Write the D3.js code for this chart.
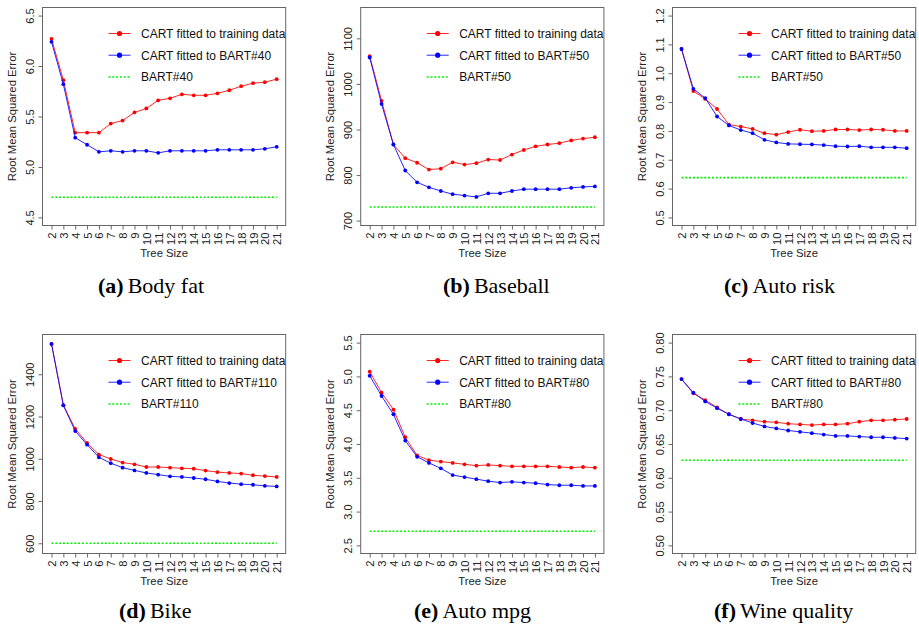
<!DOCTYPE html>
<html><head><meta charset="utf-8">
<script src="https://cdn.jsdelivr.net/npm/d3@7"></script>
<style>body{margin:0;background:#fff}svg{display:block}</style>
</head><body>
<svg id="chart" width="919" height="626"></svg>
<script>
// ---------- data ----------
const treeSizes = [2,3,4,5,6,7,8,9,10,11,12,13,14,15,16,17,18,19,20,21];

// (a) Body fat
const bodyFatCart = [6.27,5.86,5.34,5.34,5.34,5.43,5.46,5.54,5.58,5.66,5.68,5.72,5.71,5.71,5.73,5.76,5.80,5.83,5.84,5.87];
const bodyFatCartBart = [6.24,5.82,5.29,5.22,5.15,5.16,5.15,5.16,5.16,5.14,5.16,5.16,5.16,5.16,5.17,5.17,5.17,5.17,5.18,5.20];
const bodyFatBart = 4.70;
const bodyFatTicks = [4.5,5.0,5.5,6.0,6.5];

// (b) Baseball
const baseballCart = [1061,963,867,837,827,812,814,828,823,826,834,833,845,855,863,867,870,876,880,883];
const baseballCartBart = [1058,956,867,810,784,773,765,758,755,752,760,760,765,769,769,769,769,772,774,775];
const baseballBart = 730;
const baseballTicks = [700,800,900,1000,1100];

// (c) Auto risk
const autoRiskCart = [1.084,0.938,0.911,0.876,0.822,0.815,0.807,0.792,0.787,0.796,0.804,0.799,0.800,0.805,0.805,0.803,0.805,0.804,0.800,0.800];
const autoRiskCartBart = [1.084,0.946,0.914,0.850,0.819,0.803,0.792,0.769,0.760,0.755,0.754,0.753,0.751,0.747,0.746,0.747,0.743,0.743,0.743,0.740];
const autoRiskBart = 0.638;
const autoRiskTicks = [0.5,0.6,0.7,0.8,0.9,1.0,1.1,1.2];

// (d) Bike
const bikeCart = [1544,1254,1142,1075,1020,999,982,974,961,961,958,955,953,944,937,933,930,922,918,914];
const bikeCartBart = [1544,1253,1131,1067,1007,979,958,945,933,925,917,914,909,903,893,885,880,877,872,869];
const bikeBart = 600;
const bikeTicks = [600,800,1000,1200,1400];

// (e) Auto mpg
const autoMpgCart = [5.07,4.76,4.51,4.10,3.83,3.76,3.74,3.72,3.70,3.68,3.69,3.68,3.67,3.67,3.67,3.67,3.66,3.65,3.66,3.65];
const autoMpgCartBart = [5.01,4.71,4.44,4.05,3.81,3.72,3.64,3.54,3.51,3.48,3.45,3.43,3.44,3.43,3.42,3.40,3.39,3.39,3.38,3.38];
const autoMpgBart = 2.71;
const autoMpgTicks = [2.5,3.0,3.5,4.0,4.5,5.0,5.5];

// (f) Wine quality
const wineCart = [0.746,0.725,0.715,0.704,0.694,0.687,0.685,0.683,0.682,0.680,0.679,0.678,0.679,0.679,0.680,0.683,0.685,0.685,0.686,0.687];
const wineCartBart = [0.746,0.726,0.713,0.703,0.694,0.687,0.681,0.676,0.673,0.670,0.668,0.666,0.664,0.662,0.662,0.661,0.660,0.660,0.659,0.658];
const wineBart = 0.626;
const wineTicks = [0.50,0.55,0.60,0.65,0.70,0.75,0.80];

const legendCart = "CART fitted to training data";
const xTitle = "Tree Size";
const yTitle = "Root Mean Squared Error";

// ---------- layout ----------
const panels = [
  {letter:"(a)", name:"Body fat", cart:bodyFatCart, cb:bodyFatCartBart, bart:bodyFatBart, bartName:"BART#40", ticks:bodyFatTicks, fmt:".1f", ylim:[4.5,6.5], left:42.5, top:7.5, h:218, capX:98, capY:293},
  {letter:"(b)", name:"Baseball", cart:baseballCart, cb:baseballCartBart, bart:baseballBart, bartName:"BART#50", ticks:baseballTicks, fmt:"d", ylim:[707,1150], left:360.7, top:7.5, h:218, capX:443, capY:293},
  {letter:"(c)", name:"Auto risk", cart:autoRiskCart, cb:autoRiskCartBart, bart:autoRiskBart, bartName:"BART#50", ticks:autoRiskTicks, fmt:".1f", ylim:[0.5,1.2], left:672.5, top:7.5, h:218, capX:724, capY:293},
  {letter:"(d)", name:"Bike", cart:bikeCart, cb:bikeCartBart, bart:bikeBart, bartName:"BART#110", ticks:bikeTicks, fmt:"d", ylim:[590,1550], left:42.5, top:334.5, h:219, capX:119, capY:618},
  {letter:"(e)", name:"Auto mpg", cart:autoMpgCart, cb:autoMpgCartBart, bart:autoMpgBart, bartName:"BART#80", ticks:autoMpgTicks, fmt:".1f", ylim:[2.5,5.5], left:360.7, top:334.5, h:219, capX:414, capY:618},
  {letter:"(f)", name:"Wine quality", cart:wineCart, cb:wineCartBart, bart:wineBart, bartName:"BART#80", ticks:wineTicks, fmt:".2f", ylim:[0.5,0.8], left:672.5, top:334.5, h:219, capX:714, capY:618}
];

const W = 243.2;
const RED = "#ff0000", BLUE = "#0000ff", GREEN = "#00ee00";
const BOXC = "#666", TXT = "#222";
const SANS = "'Liberation Sans', Arial, sans-serif";
const SERIF = "'Liberation Serif', 'Times New Roman', serif";

const svg = d3.select("#chart");

panels.forEach(p => {
  const xe = 0.04 * (treeSizes[treeSizes.length-1] - treeSizes[0]);
  const x = d3.scaleLinear().domain([treeSizes[0]-xe, treeSizes[treeSizes.length-1]+xe]).range([p.left, p.left+W]);
  const ye = 0.04 * (p.ylim[1]-p.ylim[0]);
  const y = d3.scaleLinear().domain([p.ylim[0]-ye, p.ylim[1]+ye]).range([p.top+p.h, p.top]);
  const g = svg.append("g");

  // y axis
  const ya = g.append("g").attr("transform", `translate(${p.left},0)`)
    .call(d3.axisLeft(y).tickValues(p.ticks).tickSize(4).tickFormat(d3.format(p.fmt)));
  ya.select(".domain").remove();
  ya.selectAll("line").attr("stroke", BOXC);
  ya.selectAll("text").attr("x",0).attr("y",0).attr("dy",0)
    .attr("transform","translate(-9,0) rotate(-90)")
    .attr("text-anchor","middle").attr("fill",TXT)
    .style("font-size","11px").style("font-family",SANS);

  // x axis
  const xa = g.append("g").attr("transform", `translate(0,${p.top+p.h})`)
    .call(d3.axisBottom(x).tickValues(treeSizes).tickSize(4));
  xa.select(".domain").remove();
  xa.selectAll("line").attr("stroke", BOXC);
  xa.selectAll("text").attr("x",0).attr("y",0).attr("dy","0.36em")
    .attr("transform","translate(0,7) rotate(-90)")
    .attr("text-anchor","end").attr("fill",TXT)
    .style("font-size","11.3px").style("font-family",SANS);

  // box
  g.append("rect").attr("x",p.left).attr("y",p.top).attr("width",W).attr("height",p.h)
    .attr("fill","none").attr("stroke",BOXC).attr("stroke-width",1);

  // titles
  g.append("text").attr("x",p.left+W/2).attr("y",p.top+p.h+31)
    .attr("text-anchor","middle").attr("fill",TXT)
    .style("font-size","11.3px").style("font-family",SANS).text(xTitle);
  g.append("text").attr("transform",`translate(${p.left-27},${p.top+p.h/2}) rotate(-90)`)
    .attr("text-anchor","middle").attr("fill",TXT)
    .style("font-size","11.3px").style("font-family",SANS).text(yTitle);

  // BART reference line
  g.append("line").attr("x1",x(treeSizes[0])).attr("x2",x(treeSizes[treeSizes.length-1]))
    .attr("y1",y(p.bart)).attr("y2",y(p.bart))
    .attr("stroke",GREEN).attr("stroke-width",1.6).attr("stroke-dasharray","2,1.8");

  // series
  const line = d3.line().x((d,i)=>x(treeSizes[i])).y(d=>y(d));
  [[p.cart,RED],[p.cb,BLUE]].forEach(([vals,col]) => {
    g.append("path").datum(vals).attr("d",line).attr("fill","none")
      .attr("stroke",col).attr("stroke-width",1).attr("stroke-opacity",0.85);
    g.selectAll(null).data(vals).enter().append("circle")
      .attr("cx",(d,i)=>x(treeSizes[i])).attr("cy",d=>y(d)).attr("r",1.9).attr("fill",col);
  });

  // legend
  const lx0 = p.left+66, lx1 = p.left+88, tx = p.left+98.5;
  const rows = [p.top+26, p.top+47.7, p.top+69.5];
  const items = [
    {label:legendCart, col:RED, dot:true},
    {label:"CART fitted to " + p.bartName, col:BLUE, dot:true},
    {label:p.bartName, col:GREEN, dot:false}
  ];
  items.forEach((it,k) => {
    const ly = rows[k];
    const ln = g.append("line").attr("x1",lx0).attr("x2",lx1).attr("y1",ly).attr("y2",ly)
      .attr("stroke",it.col);
    if (it.dot) {
      ln.attr("stroke-width",1).attr("stroke-opacity",0.85);
      g.append("circle").attr("cx",(lx0+lx1)/2).attr("cy",ly).attr("r",2.6).attr("fill",it.col);
    } else {
      ln.attr("stroke-width",1.6).attr("stroke-dasharray","2,1.8");
    }
    g.append("text").attr("x",tx).attr("y",ly).attr("dy","0.36em").attr("fill","#111")
      .style("font-size","12px").style("font-family",SANS).text(it.label);
  });

  // caption
  const cap = svg.append("text").attr("x",p.capX).attr("y",p.capY)
    .style("font-family",SERIF).style("font-size","22px").attr("fill","#000");
  cap.append("tspan").style("font-weight","bold").text(p.letter);
  cap.append("tspan").attr("dx",4).text(p.name);
});
</script>
</body></html>
